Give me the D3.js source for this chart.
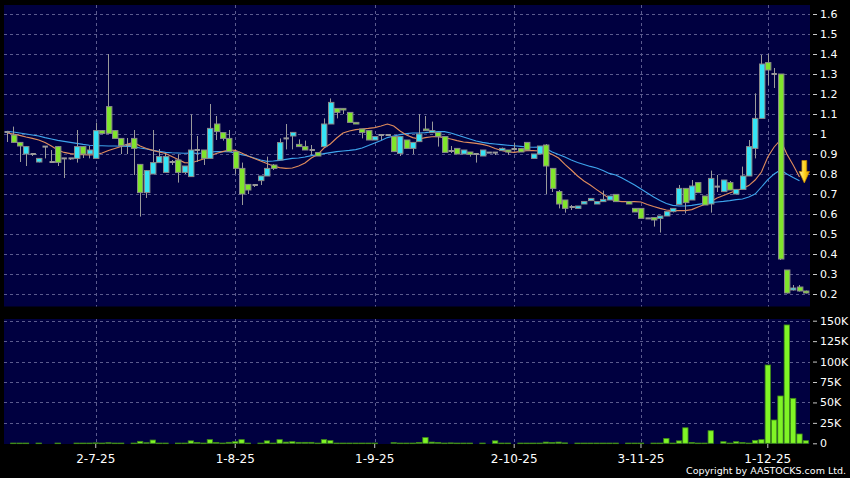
<!DOCTYPE html>
<html>
<head>
<meta charset="utf-8">
<script src="https://cdn.jsdelivr.net/npm/d3@7"></script>
<style>
html, body { margin: 0; padding: 0; background: #000; }
svg { display: block; font-family: "DejaVu Sans", sans-serif; }
</style>
</head>
<body>
<div id="chart"></div>
<script>
// daily candles, one slot per trading day (null = no trade that day)
var openP = [
  1.01, 0.995, 0.958, 0.90, 0.90, 0.86, 0.937, 0.86, 0.937, 0.878,
  0.878, 0.878, 0.937, 0.90, 0.878, 1.017, 1.137, 1.017, 0.978, 0.945,
  0.978, 0.848, 0.707, 0.80, 0.857, 0.808, 0.86, 0.87, 0.808, 0.787,
  0.92, 0.92, 0.878, 1.05, 1.007, 0.978, 0.912, 0.828, 0.748, 0.745,
  0.767, 0.79, 0.845, 0.87, 0.978, 0.99, 0.948, 0.937, 0.92, 0.907,
  0.937, 1.05, 1.128, 1.128, 1.108, 1.058, 1.025, 1.017, 0.97, 0.995,
  0.995, 0.987, 0.903, 0.97, 0.928, 0.962, 1.025, 1.007, 1.008, 0.987,
  0.915, 0.928, 0.90, 0.91, 0.90, 0.89, 0.907, 0.907, 0.917, 0.92,
  0.925, 0.927, 0.958, 0.878, 0.90, 0.945, 0.828, 0.712, 0.67, 0.635,
  0.628, 0.65, 0.667, 0.65, 0.662, 0.67, 0.698, null, 0.662, 0.628,
  0.628, 0.578, 0.582, 0.578, 0.59, 0.612, 0.648, 0.728, 0.67, 0.757,
  0.69, 0.65, 0.737, 0.712, 0.757, 0.70, 0.723, 0.79, 0.928, 1.078,
  1.357, 1.30, 1.30, 0.32, 0.22, 0.235, 0.215
]
var highP = [
  1.01, 1.037, 0.96, 0.94, 0.90, 0.878, 0.94, 0.92, 0.94, 0.878,
  0.878, 1.02, 0.94, 0.94, 1.057, 1.02, 1.40, 1.02, 0.98, 0.98,
  1.02, 0.85, 0.82, 1.02, 0.925, 0.90, 0.87, 0.90, 0.84, 1.098,
  0.99, 0.92, 1.15, 1.09, 1.007, 1.02, 0.912, 0.857, 0.75, 0.75,
  0.79, 0.887, 0.85, 0.978, 1.05, 1.008, 0.973, 0.967, 0.945, 0.907,
  1.078, 1.178, 1.128, 1.128, 1.108, 1.058, 1.025, 1.017, 0.987, 1.0,
  1.0, 0.987, 0.987, 0.97, 0.958, 1.10, 1.09, 1.062, 1.008, 0.987,
  0.94, 0.928, 0.92, 0.91, 0.90, 0.92, 0.907, 0.907, 0.932, 0.92,
  0.957, 0.927, 0.958, 0.90, 0.94, 0.95, 0.828, 0.72, 0.67, 0.645,
  0.64, 0.662, 0.678, 0.662, 0.717, 0.69, 0.698, null, 0.662, 0.628,
  0.628, 0.578, 0.582, 0.59, 0.612, 0.628, 0.745, 0.728, 0.77, 0.757,
  0.69, 0.817, 0.795, 0.77, 0.765, 0.723, 0.837, 0.97, 1.203, 1.395,
  1.40, 1.33, 1.30, 0.32, 0.245, 0.245, 0.217
]
var lowP = [
  0.96, 0.955, 0.86, 0.84, 0.89, 0.858, 0.878, 0.858, 0.84, 0.78,
  0.87, 0.857, 0.88, 0.878, 0.878, 1.0, 1.0, 0.978, 0.90, 0.90,
  0.795, 0.587, 0.68, 0.80, 0.857, 0.808, 0.845, 0.757, 0.80, 0.787,
  0.86, 0.845, 0.878, 0.97, 0.967, 0.91, 0.80, 0.645, 0.70, 0.735,
  0.745, 0.79, 0.82, 0.87, 0.923, 0.923, 0.937, 0.92, 0.895, 0.89,
  0.937, 1.05, 1.078, 1.10, 1.058, 1.05, 0.978, 0.97, 0.97, 0.97,
  0.99, 0.912, 0.89, 0.928, 0.90, 0.962, 1.017, 1.007, 0.937, 0.908,
  0.905, 0.90, 0.90, 0.887, 0.857, 0.89, 0.907, 0.895, 0.917, 0.895,
  0.92, 0.91, 0.92, 0.878, 0.90, 0.70, 0.71, 0.628, 0.607, 0.62,
  0.628, 0.65, 0.667, 0.65, 0.662, 0.67, 0.662, null, 0.65, 0.61,
  0.578, 0.578, 0.537, 0.507, 0.59, 0.608, 0.648, 0.603, 0.67, 0.707,
  0.645, 0.607, 0.71, 0.712, 0.72, 0.70, 0.723, 0.79, 0.878, 1.078,
  1.245, 1.23, 0.37, 0.203, 0.217, 0.212, 0.203
]
var closeP = [
  1.01, 0.958, 0.94, 0.937, 0.90, 0.878, 0.937, 0.86, 0.858, 0.878,
  0.878, 0.937, 0.90, 0.92, 1.017, 1.003, 1.003, 0.978, 0.942, 0.945,
  0.928, 0.707, 0.817, 0.857, 0.887, 0.887, 0.86, 0.808, 0.84, 0.92,
  0.92, 0.878, 1.028, 1.012, 0.978, 0.912, 0.828, 0.70, 0.72, 0.745,
  0.79, 0.828, 0.828, 0.957, 0.978, 1.008, 0.937, 0.92, 0.92, 0.89,
  1.05, 1.158, 1.108, 1.12, 1.058, 1.05, 1.007, 0.97, 0.987, 0.995,
  0.995, 0.912, 0.987, 0.928, 0.958, 1.0, 1.017, 1.017, 0.987, 0.908,
  0.915, 0.90, 0.92, 0.898, 0.90, 0.92, 0.907, 0.907, 0.928, 0.91,
  0.925, 0.91, 0.92, 0.90, 0.94, 0.84, 0.728, 0.65, 0.628, 0.635,
  0.64, 0.662, 0.678, 0.662, 0.673, 0.69, 0.662, null, 0.65, 0.61,
  0.578, 0.578, 0.57, 0.59, 0.612, 0.628, 0.728, 0.657, 0.74, 0.707,
  0.645, 0.778, 0.737, 0.77, 0.72, 0.723, 0.79, 0.937, 1.078, 1.35,
  1.32, 1.30, 0.375, 0.205, 0.23, 0.215, 0.205
]
var volume = [
  0, 300, 300, 300, 0, 300, 0, 0, 300, 0,
  0, 300, 300, 300, 500, 300, 700, 300, 300, 0,
  300, 2400, 700, 4000, 300, 300, 0, 300, 300, 3000,
  1000, 300, 4500, 1000, 300, 1200, 2000, 4500, 300, 0,
  300, 3000, 300, 4500, 1500, 2000, 1200, 1200, 1200, 300,
  4500, 3300, 300, 300, 300, 300, 300, 300, 300, 0,
  0, 800, 300, 300, 300, 1000, 7000, 1500, 1000, 300,
  500, 300, 300, 300, 0, 300, 0, 3000, 300, 300,
  0, 300, 300, 300, 300, 1500, 1000, 1500, 500, 0,
  300, 300, 300, 300, 300, 300, 300, 0, 300, 300,
  300, 0, 300, 300, 6000, 300, 3000, 19000, 1000, 300,
  300, 15400, 0, 2000, 300, 2000, 1000, 300, 3600, 4500,
  95800, 28500, 57900, 144800, 55000, 11400, 3200
]
// moving averages as drawn (orange = short, blue = long), slots 0..125
var maShort = [
  1.005, 1.0, 0.993, 0.985, 0.978, 0.97, 0.958, 0.94, 0.92, 0.908,
  0.902, 0.898, 0.897, 0.895, 0.897, 0.905, 0.917, 0.928, 0.938, 0.95,
  0.958, 0.94, 0.927, 0.918, 0.91, 0.903, 0.888, 0.872, 0.857, 0.855,
  0.865, 0.875, 0.89, 0.903, 0.912, 0.92, 0.918, 0.905, 0.89, 0.878,
  0.865, 0.853, 0.84, 0.832, 0.828, 0.83, 0.84, 0.855, 0.88, 0.897,
  0.93, 0.95, 0.98, 1.005, 1.015, 1.022, 1.025, 1.028, 1.032, 1.04,
  1.05, 1.04, 1.015, 0.995, 0.982, 0.975, 0.982, 0.986, 0.987, 0.982,
  0.975, 0.967, 0.96, 0.957, 0.953, 0.948, 0.94, 0.928, 0.918, 0.91,
  0.908, 0.913, 0.917, 0.917, 0.915, 0.912, 0.897, 0.88, 0.848, 0.82,
  0.79, 0.765, 0.745, 0.722, 0.70, 0.677, 0.665, 0.662, 0.662, 0.662,
  0.66, 0.648, 0.637, 0.628, 0.62, 0.617, 0.617, 0.617, 0.622, 0.635,
  0.648, 0.662, 0.68, 0.692, 0.705, 0.718, 0.728, 0.742, 0.77, 0.81,
  0.885, 0.935, 0.97, 0.90, 0.845, 0.785
]
var maLong = [
  1.013, 1.01, 1.005, 1.0, 0.995, 0.99, 0.982, 0.975, 0.968, 0.963,
  0.958, 0.953, 0.948, 0.944, 0.942, 0.941, 0.94, 0.94, 0.939, 0.938,
  0.936, 0.93, 0.925, 0.918, 0.913, 0.908, 0.906, 0.905, 0.904, 0.905,
  0.903, 0.905, 0.91, 0.912, 0.912, 0.912, 0.905, 0.897, 0.89, 0.88,
  0.87, 0.863, 0.865, 0.868, 0.873, 0.878, 0.88, 0.885, 0.892, 0.896,
  0.902, 0.907, 0.912, 0.915, 0.918, 0.922, 0.93, 0.942, 0.955, 0.968,
  0.982, 0.99, 0.997, 1.002, 1.005, 1.005, 1.007, 1.01, 1.012, 1.012,
  1.005, 0.995, 0.985, 0.975, 0.965, 0.958, 0.953, 0.95, 0.947, 0.944,
  0.941, 0.938, 0.935, 0.934, 0.935, 0.928, 0.91, 0.898, 0.885, 0.87,
  0.858, 0.848, 0.838, 0.83, 0.818, 0.803, 0.795, 0.78, 0.762, 0.745,
  0.725, 0.705, 0.685, 0.668, 0.652, 0.643, 0.64, 0.64, 0.643, 0.648,
  0.653, 0.657, 0.66, 0.663, 0.667, 0.672, 0.675, 0.685, 0.70, 0.735,
  0.772, 0.80, 0.82, 0.80, 0.782, 0.766
]
var tickIndex = [14, 36, 58, 80, 100, 120]
var tickLabels = ['2-7-25', '1-8-25', '1-9-25', '2-10-25', '3-11-25', '1-12-25']
var priceTicks = [0.2, 0.3, 0.4, 0.5, 0.6, 0.7, 0.8, 0.9, 1, 1.1, 1.2, 1.3, 1.4, 1.5, 1.6]
var volTicks = [0, 25000, 50000, 75000, 100000, 125000, 150000]
var signalPrice = 0.755   // tip of the yellow arrow

var svgWidth = 850, svgHeight = 478
var panelLeft = 4, panelRight = 810
var priceTop = 5, priceBottom = 306.5
var volTop = 319, volBottom = 444

var upColor = '#35e4f6', downColor = '#80e52c', flatColor = '#9a9a9a'
var gridColor = '#5b5b8e'

var svg = d3.select('#chart').append('svg')
    .attr('width', svgWidth)
    .attr('height', svgHeight)

svg.append('rect')
    .attr('width', svgWidth).attr('height', svgHeight)
    .attr('fill', '#000')

var defs = svg.append('defs')
defs.append('clipPath').attr('id', 'priceClip')
    .append('rect')
    .attr('x', panelLeft).attr('y', priceTop)
    .attr('width', panelRight - panelLeft).attr('height', priceBottom - priceTop)
var grad = defs.append('linearGradient').attr('id', 'arrowGrad')
    .attr('x1', 0).attr('y1', 0).attr('x2', 1).attr('y2', 0)
grad.append('stop').attr('offset', '0%').attr('stop-color', '#fff3a8')
grad.append('stop').attr('offset', '55%').attr('stop-color', '#ffd21a')
grad.append('stop').attr('offset', '100%').attr('stop-color', '#e09a00')

// scales
var idx = d3.range(openP.length)
var x = d3.scaleBand().domain(idx).range([3.83, 809.0])
var step = x.step()
var cx = i => x(i) + step / 2
var y = d3.scaleLinear().domain([0.2, 1.6]).range([294, 14])
var yv = d3.scaleLinear().domain([0, 150000]).range([443.3, 320.7])

// panels
svg.append('rect')
    .attr('x', panelLeft).attr('y', priceTop)
    .attr('width', panelRight - panelLeft).attr('height', priceBottom - priceTop)
    .attr('fill', '#000040')
svg.append('rect')
    .attr('x', panelLeft).attr('y', volTop)
    .attr('width', panelRight - panelLeft).attr('height', volBottom - volTop)
    .attr('fill', '#000040')

var crisp = v => Math.round(v) + 0.5

// grid
var grid = svg.append('g')
    .attr('stroke', gridColor)
    .attr('stroke-width', 1)
    .attr('stroke-dasharray', '3,3')
grid.selectAll('.hp').data(priceTicks).enter().append('line')
    .attr('x1', panelLeft).attr('x2', panelRight)
    .attr('y1', d => crisp(y(d))).attr('y2', d => crisp(y(d)))
grid.selectAll('.hv').data(volTicks.slice(1)).enter().append('line')
    .attr('x1', panelLeft).attr('x2', panelRight)
    .attr('y1', d => crisp(yv(d))).attr('y2', d => crisp(yv(d)))
grid.selectAll('.vp').data(tickIndex).enter().append('line')
    .attr('x1', d => crisp(cx(d))).attr('x2', d => crisp(cx(d)))
    .attr('y1', priceTop).attr('y2', priceBottom)
grid.selectAll('.vv').data(tickIndex).enter().append('line')
    .attr('x1', d => crisp(cx(d))).attr('x2', d => crisp(cx(d)))
    .attr('y1', volTop).attr('y2', volBottom)

// moving averages (under the candles)
var plot = svg.append('g').attr('clip-path', 'url(#priceClip)')
var maLine = d3.line().x((d, i) => cx(i)).y(d => y(d))
plot.append('path')
    .attr('d', maLine(maLong))
    .attr('fill', 'none').attr('stroke', '#3da4ec').attr('stroke-width', 1.1)
plot.append('path')
    .attr('d', maLine(maShort))
    .attr('fill', 'none').attr('stroke', '#e08c5c').attr('stroke-width', 1.1)

// candles
var days = idx.filter(i => openP[i] != null)
var bodyW = 5.4
plot.selectAll('.wick').data(days).enter().append('line')
    .attr('x1', i => crisp(cx(i))).attr('x2', i => crisp(cx(i)))
    .attr('y1', i => y(highP[i])).attr('y2', i => y(lowP[i]))
    .attr('stroke', '#9a9a9a').attr('stroke-width', 1)

plot.selectAll('.body').data(days).enter().append('rect')
    .attr('x', i => Math.round(cx(i) - bodyW / 2) + 0.5)
    .attr('width', bodyW)
    .attr('y', i => {
        if (openP[i] === closeP[i]) return y(openP[i]) - 1
        return y(Math.max(openP[i], closeP[i]))
    })
    .attr('height', i => {
        if (openP[i] === closeP[i]) return 2
        return Math.max(1.5, Math.abs(y(openP[i]) - y(closeP[i])))
    })
    .attr('fill', i => closeP[i] > openP[i] ? upColor : closeP[i] < openP[i] ? downColor : flatColor)
    .attr('stroke', i => openP[i] === closeP[i] ? 'none' : '#8a8a8a')
    .attr('stroke-width', 1)

// signal arrow at the last point
var ax = cx(idx.length - 1) - 1.5, ay = y(signalPrice)
svg.append('path')
    .attr('d', 'M' + (ax - 2.4) + ',' + (ay - 22.5) +
        'H' + (ax + 2.4) + 'V' + (ay - 11.5) +
        'H' + (ax + 5.2) + 'L' + ax + ',' + ay +
        'L' + (ax - 5.2) + ',' + (ay - 11.5) +
        'H' + (ax - 2.4) + 'Z')
    .attr('fill', 'url(#arrowGrad)')
    .attr('stroke', '#c88a00').attr('stroke-width', 0.7)

// volume bars
svg.append('g').selectAll('rect').data(idx.filter(i => volume[i] > 0)).enter().append('rect')
    .attr('x', i => x(i) + 0.5)
    .attr('width', step - 1)
    .attr('y', i => yv(volume[i]))
    .attr('height', i => Math.max(0.6, yv(0) - yv(volume[i])))
    .attr('fill', '#80f526')
    .attr('stroke', '#3f8a18').attr('stroke-width', 0.8)

// axes
function styleAxis(g, size) {
    g.select('.domain').remove()
    g.selectAll('.tick line').attr('stroke', '#c8c8c8')
    g.selectAll('.tick text')
        .attr('fill', '#fff')
        .style('font-size', size + 'px')
        .style('font-family', '"DejaVu Sans", sans-serif')
}

svg.append('g')
    .attr('transform', 'translate(813,0)')
    .call(d3.axisRight(y).tickValues(priceTicks).tickFormat(d3.format('~g'))
        .tickSize(4).tickPadding(3))
    .call(g => styleAxis(g, 11))

svg.append('g')
    .attr('transform', 'translate(813,0)')
    .call(d3.axisRight(yv).tickValues(volTicks)
        .tickFormat(d => d === 0 ? '0' : (d / 1000) + 'K')
        .tickSize(4).tickPadding(3))
    .call(g => styleAxis(g, 11))

svg.append('g')
    .attr('transform', 'translate(0,' + volBottom + ')')
    .call(d3.axisBottom(x).tickValues(tickIndex)
        .tickFormat((d, k) => tickLabels[k])
        .tickSize(4).tickPadding(6))
    .call(g => styleAxis(g, 12))

svg.append('text')
    .attr('x', 846).attr('y', 474)
    .attr('text-anchor', 'end')
    .attr('fill', '#fff')
    .style('font-size', '9.5px')
    .text('Copyright by AASTOCKS.com Ltd.')
</script>
</body>
</html>
